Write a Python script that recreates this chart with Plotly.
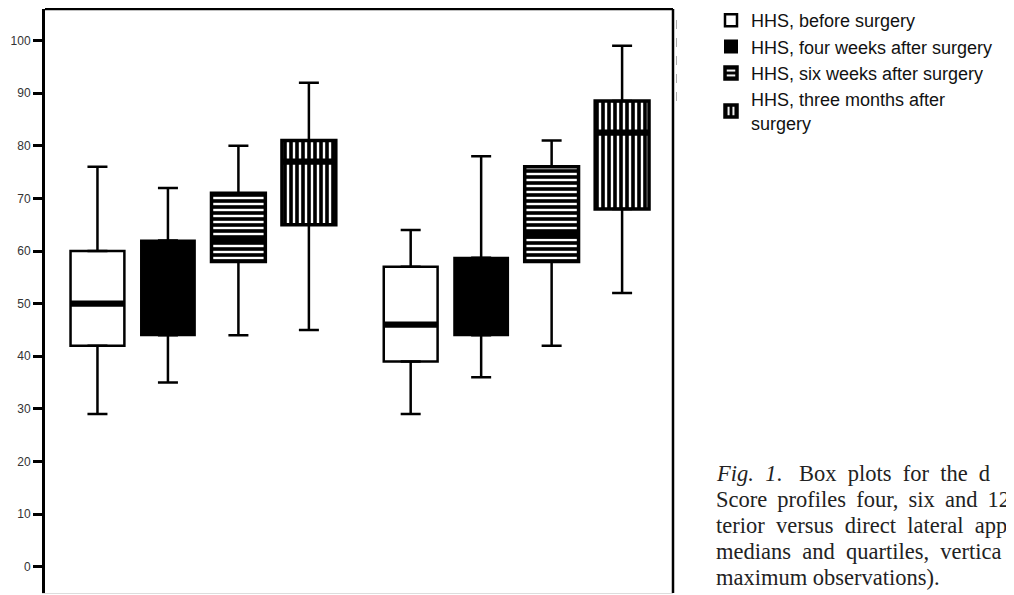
import plotly.graph_objects as go

# ---- data ----
categories = ["Direct anterior", "Direct lateral"]
series_names = [
    "HHS, before surgery",
    "HHS, four weeks after surgery",
    "HHS, six weeks after surgery",
    "HHS, three months after<br>surgery",
]
lower_whisker = [[29, 29], [35, 36], [44, 42], [45, 52]]
q1_values = [[42, 39], [44, 44], [58, 58], [65, 68]]
median_values = [[50, 46], [52, 50], [62, 63], [77, 82.5]]
q3_values = [[60, 57], [62, 58.7], [71, 76], [81, 88.5]]
upper_whisker = [[76, 64], [72, 78], [80, 81], [92, 99]]
y_ticks = [0, 10, 20, 30, 40, 50, 60, 70, 80, 90, 100]

caption_lines = [
    "<i>Fig.</i>  <i>1</i>.   Box  plots  for  the  d",
    "Score\u2009 profiles\u2009 four,\u2009 six\u2009 and\u2009 12",
    "terior  versus  direct  lateral  app",
    "medians  and  quartiles,  vertica",
    "maximum observations).",
]

# ---- layout geometry (page offset: the browser body has an 8px margin) ----
PAGE_OFF = 8
W, H = 1014 - PAGE_OFF, 595 - PAGE_OFF
PLOT_L, PLOT_R, PLOT_T, PLOT_B = 45, 673, 9, 593  # in page pixels
ML, MT = PLOT_L - PAGE_OFF, PLOT_T - PAGE_OFF
MR, MB = W - (PLOT_R - PAGE_OFF), H - (PLOT_B - PAGE_OFF)
PW, PH = PLOT_R - PLOT_L, PLOT_B - PLOT_T

styles = [
    dict(color="white", line=dict(color="black", width=2.5)),
    dict(color="black", line=dict(color="black", width=2)),
    dict(color="black", line=dict(color="black", width=3.5),
         pattern=dict(shape="-", bgcolor="#000000", fgcolor="#ffffff", fgopacity=1,
                      fillmode="replace", size=6, solidity=0.4)),
    dict(color="black", line=dict(color="black", width=3.5),
         pattern=dict(shape="|", bgcolor="#000000", fgcolor="#ffffff", fgopacity=1,
                      fillmode="replace", size=6, solidity=0.4)),
]

fig = go.Figure()
err_style = dict(color="black", thickness=2.5, width=10)

# boxes (interquartile range) with upper whiskers
for i, name in enumerate(series_names):
    base = q1_values[i]
    height = [q3 - q1 for q1, q3 in zip(q1_values[i], q3_values[i])]
    up = [u - q3 for u, q3 in zip(upper_whisker[i], q3_values[i])]
    fig.add_trace(go.Bar(
        x=categories, y=height, base=base, name=name,
        offsetgroup=str(i), legendgroup=str(i),
        marker=styles[i],
        error_y=dict(type="data", symmetric=False, array=up,
                     arrayminus=[0] * len(up), **err_style),
        hoverinfo="skip",
    ))

# lower whiskers
for i in range(len(series_names)):
    base = lower_whisker[i]
    height = [q1 - lo for lo, q1 in zip(lower_whisker[i], q1_values[i])]
    fig.add_trace(go.Bar(
        x=categories, y=height, base=base, showlegend=False,
        offsetgroup=str(i), legendgroup=str(i),
        marker=dict(color="rgba(0,0,0,0)", line=dict(width=0)),
        error_y=dict(type="data", symmetric=False, array=[0] * len(height),
                     arrayminus=height, **err_style),
        hoverinfo="skip",
    ))

# medians (thick bands)
MEDIAN_T = 1.2
for i in range(len(series_names)):
    base = [m - MEDIAN_T / 2 for m in median_values[i]]
    fig.add_trace(go.Bar(
        x=categories, y=[MEDIAN_T] * len(base), base=base, showlegend=False,
        offsetgroup=str(i), legendgroup=str(i),
        marker=dict(color="black", line=dict(width=0)),
        hoverinfo="skip",
    ))

def px_x(page_x):
    return (page_x - PLOT_L) / PW

def px_y(page_y):
    return (PLOT_B - page_y) / PH

annotations = []
caption_y = [473, 499, 525, 551, 577]
for txt, cy in zip(caption_lines, caption_y):
    annotations.append(dict(
        text=txt, xref="paper", yref="paper", x=px_x(714), y=px_y(cy),
        xanchor="left", yanchor="middle", showarrow=False, align="left",
        font=dict(family="Liberation Serif, Times New Roman, serif", size=22.5, color="#222"),
    ))

shapes = [
    dict(type="line", xref="paper", yref="paper", x0=0, x1=1, y0=1, y1=1,
         line=dict(color="black", width=2.5)),
    dict(type="line", xref="paper", yref="paper", x0=1, x1=1, y0=0, y1=1,
         line=dict(color="black", width=2.5)),
    dict(type="line", xref="paper", yref="paper", x0=px_x(676.5), x1=px_x(676.5),
         y0=px_y(20), y1=px_y(108), line=dict(color="#aaaaaa", width=1, dash="dash")),
]

fig.update_layout(
    width=W, height=H,
    margin=dict(l=ML, r=MR, t=MT, b=MB, autoexpand=False),
    paper_bgcolor="white", plot_bgcolor="white",
    barmode="group", bargap=0.1, bargroupgap=0.236,
    showlegend=True,
    legend=dict(x=px_x(711), y=px_y(2), xanchor="left", yanchor="top",
                font=dict(family="Liberation Sans, Arial, sans-serif", size=18, color="#111"),
                bgcolor="rgba(0,0,0,0)", tracegroupgap=0, traceorder="normal"),
    xaxis=dict(showticklabels=False, ticks="", showgrid=False, zeroline=False,
               showline=True, linecolor="#dddddd", linewidth=1, range=[-0.505, 1.5]),
    yaxis=dict(range=[-5, 106], tickvals=y_ticks, ticks="outside", ticklen=9, tickwidth=3,
               tickcolor="black", showline=True, linecolor="black", linewidth=3,
               showgrid=False, zeroline=False,
               tickfont=dict(family="Liberation Sans, Arial, sans-serif", size=12, color="#333")),
    annotations=annotations, shapes=shapes,
)

fig.write_html("out.html")
